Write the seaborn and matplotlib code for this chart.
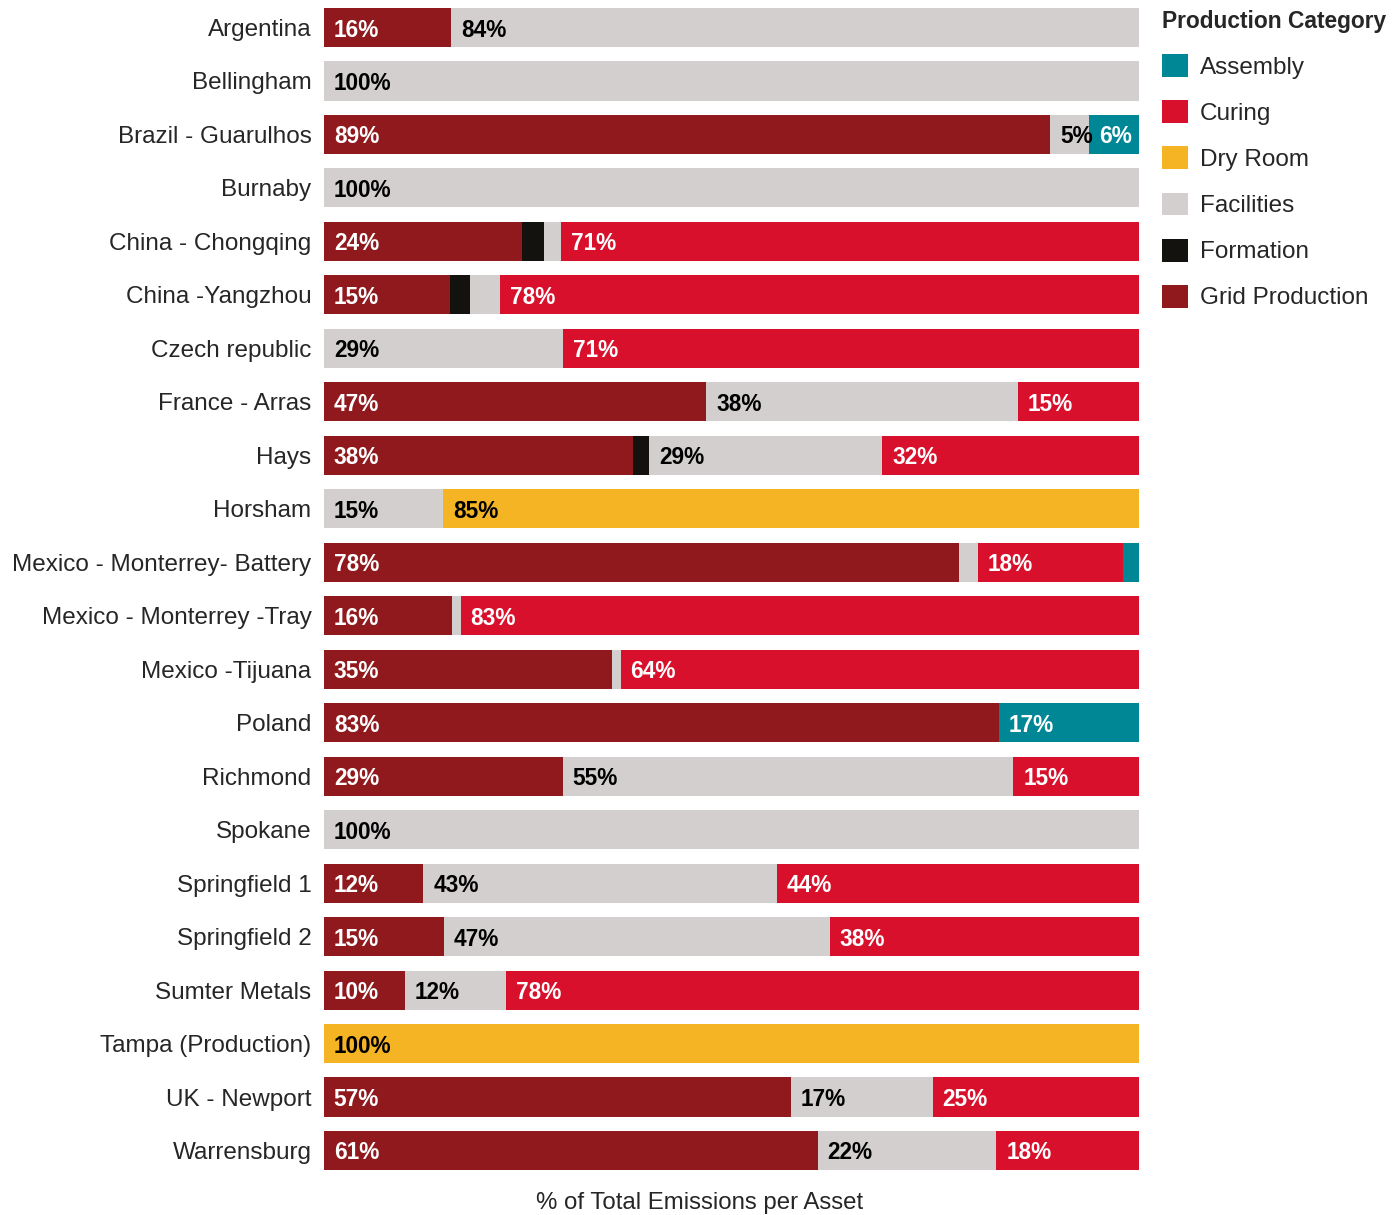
import numpy as np
import pandas as pd
import matplotlib
matplotlib.use("Agg")
import matplotlib.pyplot as plt
from matplotlib.patches import Patch
import seaborn as sns

assets = ["Argentina", "Bellingham", "Brazil - Guarulhos", "Burnaby", "China - Chongqing",
          "China -Yangzhou", "Czech republic", "France - Arras", "Hays", "Horsham",
          "Mexico - Monterrey- Battery", "Mexico - Monterrey -Tray", "Mexico -Tijuana",
          "Poland", "Richmond", "Spokane", "Springfield 1", "Springfield 2", "Sumter Metals",
          "Tampa (Production)", "UK - Newport", "Warrensburg"]

categories = ["Grid Production", "Formation", "Facilities", "Dry Room", "Curing", "Assembly"]

grid_production = [15.6, 0, 89.1, 0, 24.3, 15.4, 0, 46.9, 37.9, 0, 77.9, 15.7, 35.3, 82.8, 29.3, 0, 12.2, 14.7, 9.9, 0, 57.3, 60.6]
formation       = [0, 0, 0, 0, 2.7, 2.5, 0, 0, 2.0, 0, 0, 0, 0, 0, 0, 0, 0, 0, 0, 0, 0, 0]
facilities      = [84.4, 100, 4.8, 100, 2.1, 3.7, 29.3, 38.2, 28.6, 14.6, 2.3, 1.1, 1.1, 0, 55.3, 100, 43.4, 47.4, 12.4, 0, 17.4, 21.9]
dry_room        = [0, 0, 0, 0, 0, 0, 0, 0, 0, 85.4, 0, 0, 0, 0, 0, 0, 0, 0, 0, 100, 0, 0]
curing          = [0, 0, 0, 0, 70.9, 78.4, 70.7, 14.9, 31.5, 0, 17.8, 83.2, 63.6, 0, 15.4, 0, 44.4, 37.9, 77.7, 0, 25.3, 17.5]
assembly        = [0, 0, 6.1, 0, 0, 0, 0, 0, 0, 0, 2.0, 0, 0, 17.2, 0, 0, 0, 0, 0, 0, 0, 0]

colors = {"Grid Production": "#8F191D", "Formation": "#13120E", "Facilities": "#D3CFCF",
          "Dry Room": "#F5B423", "Curing": "#D8102B", "Assembly": "#008795"}
text_colors = {"Grid Production": "white", "Formation": "white", "Facilities": "black",
               "Dry Room": "black", "Curing": "white", "Assembly": "white"}

series = [grid_production, formation, facilities, dry_room, curing, assembly]
df = pd.DataFrame({c: s for c, s in zip(categories, series)}, index=assets)
cum = df.cumsum(axis=1)

sns.set_style("white")
plt.rcParams['font.family'] = ['Liberation Sans', 'DejaVu Sans']

fig = plt.figure(figsize=(14, 12.15), dpi=100)
ax = fig.add_axes([324/1400, 1 - 1170/1215, (1139-324)/1400, (1170-8)/1215])

bar_w = 0.73
for cat in reversed(categories):
    d = pd.DataFrame({"asset": assets, "value": cum[cat].values})
    sns.barplot(data=d, x="value", y="asset", orient="h", color=colors[cat],
                width=bar_w, saturation=1, ax=ax, linewidth=0, edgecolor="none")

# labels
for i, a in enumerate(assets):
    left = 0.0
    for cat in categories:
        v = df.loc[a, cat]
        if v >= 4.5:
            ax.text(left + 1.2, i, f"{v:.0f}%", va="center_baseline", ha="left",
                    fontsize=16.3, fontweight="bold", color=text_colors[cat])
        left += v

ax.set_xlim(0, 100)
ax.set_ylim(len(assets) - 1 + bar_w/2, -bar_w/2)
ax.set_xlabel("")
ax.set_ylabel("")
ax.set_xticks([])
ax.tick_params(axis="y", length=0, pad=9, labelsize=17.5)
for lbl in ax.get_yticklabels():
    lbl.set_va("center_baseline")
for s in ax.spines.values():
    s.set_visible(False)

fig.text(0.5, 1 - 1203/1215, "% of Total Emissions per Asset", ha="center", va="center", fontsize=17.3)

legend_order = ["Assembly", "Curing", "Dry Room", "Facilities", "Formation", "Grid Production"]
handles = [Patch(facecolor=colors[c], edgecolor="none", label=c) for c in legend_order]
leg = fig.legend(handles=handles, title="Production Category", loc="upper left",
                 bbox_to_anchor=(1157/1400, 1 - 5/1215), frameon=False, fontsize=17.5,
                 title_fontproperties={"weight": "bold", "size": 16.4},
                 handlelength=1.07, handleheight=1.07, labelspacing=0.88,
                 handletextpad=0.5, borderaxespad=0, borderpad=0.2, alignment="left")

fig.savefig("out.png", dpi=100)
